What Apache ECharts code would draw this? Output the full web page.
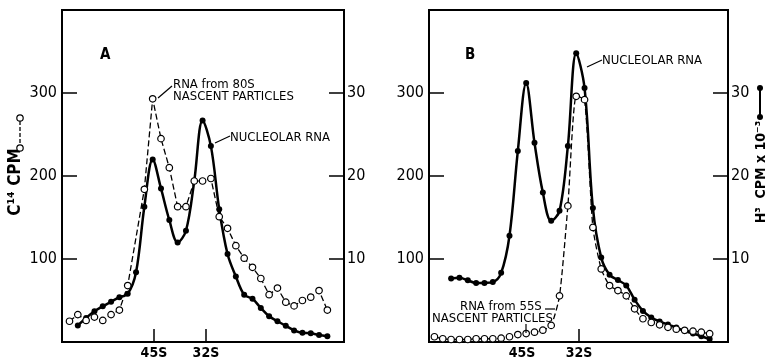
<!DOCTYPE html>
<html><head><meta charset="utf-8">
<script src="https://cdn.jsdelivr.net/npm/echarts@6/dist/echarts.min.js"></script>
<style>html,body{margin:0;padding:0;background:#fff}#c{width:767px;height:360px}</style>
</head><body><div id="c"></div>
<script>
// ---- Panel A data (fraction number -> counts) ----
const fractionsA = [0,1,2,3,4,5,6,7,8,9,10,11,12,13,14,15,16,17,18,19,20,21,22,23,24,25,26,27,28,29,30,31];
// C14 CPM, RNA from 80S nascent particles (open circles)
const openA = [25,33,26,30,26,33,38.5,68,null,184,293,245,210,163,163,194,194,197,151,137,116,101,90,76.5,57,65,48,43.5,50,54,62,38.5];
// nucleolar RNA (filled circles), H3 CPM x10^-3 read on the left scale /10
const filledA = [null,20,29,37,43,48.5,54,58,84,163,220,185,147,120,134,194,267,236,160,106,79,57,52,41,31,25,19.5,14,11,10.5,8.5,7];
const markersA = [10.15,16.4];
const markerLabelsA = ['45S','32S'];

// ---- Panel B data ----
const fractionsB = [0,1,2,3,4,5,6,7,8,9,10,11,12,13,14,15,16,17,18,19,20,21,22,23,24,25,26,27,28,29,30,31,32,33];
// C14 CPM, RNA from 55S nascent particles (open circles)
const openB = [6.3,3.9,3,3,3,3.9,3.9,3.9,4.6,6.3,9,10.2,11.8,14.2,20,55.6,164,296,292,138,88,68,62,55.6,40,28,23.5,20.7,17.7,15.4,14.1,13,11.8,10];
// nucleolar RNA (filled circles)
const filledB = [null,null,76.4,77.3,74.4,71,71.2,72.2,83.3,128,230,312,240,180,146,158,236,348,306,161.5,101.7,81,74.6,68,51,37.5,29.5,24.7,21,17.4,13.2,10.2,7,3.6];
const markersB = [10.5,17.33];
const markerTicksB = [17.33];
const markerLabelsB = ['45S','32S'];

const leftTicks = [100,200,300];

const FONT = '"Liberation Sans Narrow","DejaVu Sans Condensed","Liberation Sans",sans-serif';
const pairs = (xs, ys) => xs.map((x,i)=>[x, ys[i]==null ? '-' : ys[i]]);

function xAxisFor(gi, min, max, tickVals, labVals, labNames){
  return {
    gridIndex: gi, type:'value', min, max,
    axisLine:{show:true, onZero:false, lineStyle:{color:'#000', width:2}},
    splitLine:{show:false},
    axisTick:{show:true, inside:true, length:13, customValues:tickVals, lineStyle:{color:'#000', width:1.5}},
    axisLabel:{show:true, customValues:labVals, margin:4, color:'#000', fontFamily:FONT, fontSize:14, fontWeight:'bold',
      formatter:v=>{ const i = labVals.findIndex(u=>Math.abs(u-v)<1e-6); return i>=0 ? labNames[i] : ''; }}
  };
}
function yAxisFor(gi, pos, fmt){
  return {
    gridIndex: gi, type:'value', min:0, max:400, interval:100, position:pos,
    axisLine:{show:true, onZero:false, lineStyle:{color:'#000', width:2}},
    splitLine:{show:false},
    axisTick:{show:true, inside:true, length:15, customValues:leftTicks, lineStyle:{color:'#000', width:1.5}},
    axisLabel:{show:true, customValues:leftTicks, margin:pos==='left'?5:3, color:'#000', fontFamily:FONT, fontSize:16, formatter:fmt}
  };
}

const filledStyle = {type:'line', smooth:0.35, symbol:'circle', symbolSize:6,
  itemStyle:{color:'#000'}, lineStyle:{color:'#000', width:2.5}, connectNulls:true};
const openStyle = {type:'line', symbol:'circle', symbolSize:6.5,
  itemStyle:{color:'#fff', borderColor:'#000', borderWidth:1.2}, lineStyle:{color:'#000', width:1.3, type:[6,3]}, connectNulls:true};

const chart = echarts.init(document.getElementById('c'), null, {renderer:'canvas'});
const txt = (x,y,text,font)=>({type:'text', x, y, z:50,
  style:{text, font, fill:'#000', textAlign:'left', textVerticalAlign:'top'}});
const vtxt = (x,y,text,font)=>({type:'text', x, y, z:50, rotation:Math.PI/2,
  style:{text, font, fill:'#000', textAlign:'center', textVerticalAlign:'middle'}});
const ln = (x1,y1,x2,y2,w,dash)=>({type:'line', z:50, shape:{x1,y1,x2,y2}, style:{stroke:'#000', lineWidth:w||1.2, lineDash:dash||null}});

chart.setOption({
  animation:false,
  backgroundColor:'#fff',
  grid:[
    {left:62, top:10, width:282, height:332, show:true, borderColor:'#000', borderWidth:2},
    {left:429, top:10, width:299, height:332, show:true, borderColor:'#000', borderWidth:2}
  ],
  xAxis:[
    xAxisFor(0, -0.9, 33, markersA, markersA, markerLabelsA),
    xAxisFor(1, -0.65, 35.2, markerTicksB, markersB, markerLabelsB)
  ],
  yAxis:[
    yAxisFor(0,'left', v=>String(v)),
    yAxisFor(0,'right', v=>String(v/10)),
    yAxisFor(1,'left', v=>String(v)),
    yAxisFor(1,'right', v=>String(v/10))
  ],
  series:[
    Object.assign({name:'Nucleolar RNA A', xAxisIndex:0, yAxisIndex:0, data:pairs(fractionsA, filledA)}, filledStyle),
    Object.assign({name:'RNA from 80S', xAxisIndex:0, yAxisIndex:0, data:pairs(fractionsA, openA)}, openStyle),
    Object.assign({name:'Nucleolar RNA B', xAxisIndex:1, yAxisIndex:2, data:pairs(fractionsB, filledB)}, filledStyle),
    Object.assign({name:'RNA from 55S', xAxisIndex:1, yAxisIndex:2, data:pairs(fractionsB, openB), smooth:0.2}, openStyle)
  ],
  graphic:[
    txt(100,48,'A','bold 15px '+FONT),
    txt(173,78,'RNA from 80S','13px '+FONT),
    txt(173,90,'NASCENT PARTICLES','13px '+FONT),
    ln(158,98,172,86),
    txt(230,131,'NUCLEOLAR RNA','13px '+FONT),
    ln(215,143,230,136),
    txt(465,48,'B','bold 15px '+FONT),
    txt(602,54,'NUCLEOLAR RNA','13px '+FONT),
    ln(587,67,602,60),
    txt(460,300,'RNA from 55S','13px '+FONT),
    txt(432,312,'NASCENT PARTICLES','13px '+FONT),
    ln(545,309,555,309),
    ln(526,324,526,333),
    // axis titles
    vtxt(16,182,'C¹⁴ CPM','bold 17px '+FONT),
    vtxt(761,172,'H³  CPM x 10⁻³','bold 14px '+FONT),
    // legend keys
    ln(20,121,20,145,1.3,[4,2]),
    {type:'circle', z:51, shape:{cx:20, cy:118, r:3.2}, style:{fill:'#fff', stroke:'#000', lineWidth:1.2}},
    {type:'circle', z:51, shape:{cx:20, cy:148, r:3.2}, style:{fill:'#fff', stroke:'#000', lineWidth:1.2}},
    ln(760,88,760,117,2),
    {type:'circle', z:51, shape:{cx:760, cy:88, r:3}, style:{fill:'#000'}},
    {type:'circle', z:51, shape:{cx:760, cy:117, r:3}, style:{fill:'#000'}}
  ]
});
</script>
</body></html>
